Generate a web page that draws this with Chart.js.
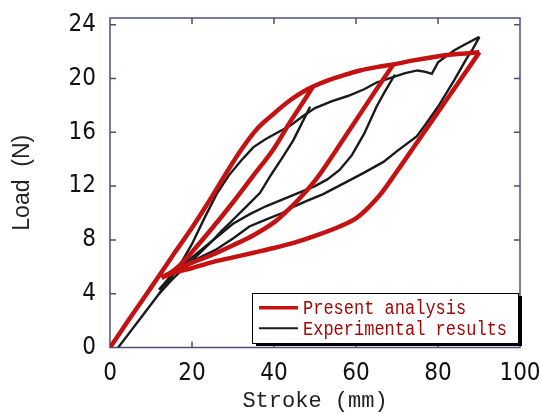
<!DOCTYPE html>
<html>
<head>
<meta charset="utf-8">
<script src="https://cdn.jsdelivr.net/npm/chart.js@4.4.1/dist/chart.umd.min.js"></script>
<style>
  body { margin: 0; background: #fff; }
</style>
</head>
<body>
<canvas id="hysteresis-chart" width="540" height="414"></canvas>
<script>
// --- axis ticks --- //
const strokeTicks = [0, 20, 40, 60, 80, 100];
const loadTicks = [0, 4, 8, 12, 16, 20, 24];

// --- present analysis (red) --- //
const anLoadX = [0, 5, 10, 13, 16, 20, 24, 28, 32, 36, 40, 44, 47, 49.5, 53, 57, 61, 65, 69.1, 74, 79, 84, 90.1];
const anLoadY = [0, 2.25, 4.45, 5.8, 7.15, 8.9, 10.8, 12.8, 14.7, 16.3, 17.4, 18.4, 19.0, 19.4, 19.85, 20.25, 20.6, 20.85, 21.05, 21.35, 21.6, 21.8, 21.95];

const anUnload1X = [49.5, 47, 44, 40, 35, 30, 25, 20, 17, 14.5, 12.6];
const anUnload1Y = [19.4, 18.2, 16.8, 14.8, 12.8, 10.8, 8.9, 7.1, 6.1, 5.5, 5.2];

const anUnload2X = [69.1, 65, 60, 55, 50, 46, 43, 40, 35, 30, 25, 20, 15, 12.6];
const anUnload2Y = [21.05, 19.2, 16.9, 14.6, 12.4, 11.0, 10.1, 9.3, 8.35, 7.6, 6.9, 6.3, 5.6, 5.2];

const anUnload3X = [90.1, 85, 80, 75, 70, 66, 63, 60, 56, 50, 45, 40, 35, 30, 25, 20, 15, 12.6];
const anUnload3Y = [21.95, 19.7, 17.5, 15.3, 13.1, 11.4, 10.4, 9.6, 9.0, 8.3, 7.8, 7.4, 7.05, 6.7, 6.35, 5.9, 5.5, 5.2];

// --- experimental results (black) --- //
const expLoadX = [2, 5, 8, 11, 14, 17, 20, 23, 26, 29, 32, 35, 38, 41, 44, 47, 50, 54, 58, 62, 65, 69, 72, 75, 77, 78.5, 80, 84, 87, 90.1];
const expLoadY = [0, 1.2, 2.4, 3.6, 4.8, 6.1, 7.7, 9.6, 11.4, 12.8, 13.9, 14.9, 15.5, 16.0, 16.5, 17.2, 17.8, 18.3, 18.7, 19.2, 19.7, 20.1, 20.4, 20.6, 20.5, 20.35, 21.2, 22.1, 22.6, 23.1];

const expUnload1X = [48.8, 46.5, 44.7, 42, 39, 36.6, 33, 30, 27, 24.4, 21, 18, 15, 12];
const expUnload1Y = [17.9, 16.5, 15.4, 14.1, 12.7, 11.5, 10.4, 9.5, 8.6, 7.75, 6.75, 5.9, 5.0, 4.0];

const expUnload2X = [69.5, 67, 65, 62, 59, 56, 53, 50, 46, 42, 38, 34, 30, 26, 22, 18, 15, 12];
const expUnload2Y = [20.3, 19.0, 17.9, 15.9, 14.3, 13.2, 12.5, 12.0, 11.5, 11.0, 10.5, 9.9, 9.2, 8.2, 7.2, 6.2, 5.4, 4.3];

const expUnload3X = [90.1, 88.5, 87, 84, 80, 77, 74.8, 70, 66.7, 62, 57, 52, 48, 45, 42, 38, 34, 30, 26, 22, 18, 15, 12];
const expUnload3Y = [23.1, 22.2, 21.5, 19.9, 17.9, 16.6, 15.7, 14.6, 13.8, 13.0, 12.2, 11.4, 10.9, 10.5, 10.0, 9.5, 9.0, 8.1, 7.3, 6.7, 6.1, 5.3, 4.3];

const RED = '#c41212';
const INK = '#1a1a1a';
const AXIS = '#4e4e78';
const tickFont = { family: "'Liberation Sans Narrow', 'DejaVu Sans Condensed', 'Liberation Sans', sans-serif", size: 24 };

// zip x/y arrays into points
const pts = (xs, ys) => xs.map((x, i) => ({ x: x, y: ys[i] }));

const redLine = (xs, ys) => ({
    label: 'Present analysis',
    data: pts(xs, ys),
    borderColor: RED,
    borderWidth: 4.5,
    cubicInterpolationMode: 'monotone',
    pointRadius: 0,
    showLine: true
});

const blackLine = (xs, ys) => ({
    label: 'Experimental results',
    data: pts(xs, ys),
    borderColor: INK,
    borderWidth: 2.4,
    tension: 0,
    pointRadius: 0,
    showLine: true
});

// box + inward ticks on all four sides
const frame = {
    id: 'frame',
    beforeDatasetsDraw(chart) {
        const { ctx, chartArea: a, scales } = chart;
        ctx.save();
        ctx.strokeStyle = AXIS;
        ctx.lineWidth = 1.5;
        ctx.strokeRect(a.left, a.top, a.right - a.left, a.bottom - a.top);
        ctx.beginPath();
        strokeTicks.slice(1, -1).forEach(v => {
            const px = scales.x.getPixelForValue(v);
            ctx.moveTo(px, a.bottom); ctx.lineTo(px, a.bottom - 6);
            ctx.moveTo(px, a.top); ctx.lineTo(px, a.top + 6);
        });
        loadTicks.slice(1).forEach(v => {
            const py = scales.y.getPixelForValue(v);
            ctx.moveTo(a.left, py); ctx.lineTo(a.left + 6, py);
            ctx.moveTo(a.right, py); ctx.lineTo(a.right - 6, py);
        });
        ctx.stroke();
        ctx.restore();
    }
};

// legend box with drop shadow, inside the plot
const legendBox = {
    id: 'legendBox',
    afterDatasetsDraw(chart) {
        const { ctx, chartArea: a } = chart;
        const entries = [];
        chart.data.datasets.forEach(ds => {
            if (!entries.find(e => e.label === ds.label)) entries.push(ds);
        });
        const w = 266, h = 50;
        const left = a.right - 2 - w, top = a.bottom - 4.5 - h;
        ctx.save();
        ctx.fillStyle = '#000';
        ctx.fillRect(left + 4, top + 3, w, h);
        ctx.fillStyle = '#fff';
        ctx.fillRect(left, top, w, h);
        ctx.strokeStyle = '#000';
        ctx.lineWidth = 1;
        ctx.strokeRect(left + 0.5, top + 0.5, w, h);
        entries.forEach((ds, i) => {
            const y = top + 14.7 + i * 20.6;
            ctx.strokeStyle = ds.borderColor;
            ctx.lineWidth = ds.borderColor === RED ? 3.5 : 2;
            ctx.beginPath();
            ctx.moveTo(left + 7, y);
            ctx.lineTo(left + 46, y);
            ctx.stroke();
            ctx.save();
            ctx.translate(left + 51, y);
            ctx.scale(0.85, 1);
            ctx.fillStyle = '#a00808';
            ctx.font = "20px 'Liberation Mono', 'DejaVu Sans Mono', monospace";
            ctx.textBaseline = 'middle';
            ctx.fillText(ds.label, 0, 1);
            ctx.restore();
        });
        ctx.restore();
    }
};

const hysteresisCanvas = document.getElementById('hysteresis-chart');

let hysteresisChart = new Chart(hysteresisCanvas, {
    type: 'scatter',
    data: {
        datasets: [
            redLine(anLoadX, anLoadY),
            redLine(anUnload1X, anUnload1Y),
            redLine(anUnload2X, anUnload2Y),
            redLine(anUnload3X, anUnload3Y),
            blackLine(expLoadX, expLoadY),
            blackLine(expUnload1X, expUnload1Y),
            blackLine(expUnload2X, expUnload2Y),
            blackLine(expUnload3X, expUnload3Y)
        ]
    },
    options: {
        responsive: false,
        animation: false,
        layout: { padding: { top: 18, right: 20, left: 0, bottom: 0 } },
        plugins: {
            legend: { display: false },
            tooltip: { enabled: false }
        },
        scales: {
            x: {
                type: 'linear',
                min: 0,
                max: 100,
                afterBuildTicks: s => { s.ticks = strokeTicks.map(v => ({ value: v })); },
                // fixed height, no extra room for the end labels
                afterFit: s => { s.height = 66.5; s.paddingLeft = 0; s.paddingRight = 0; },
                grid: { display: false, drawTicks: false },
                border: { display: false },
                ticks: { padding: 12, color: '#111', font: tickFont, maxRotation: 0 },
                title: {
                    display: true,
                    text: 'Stroke (mm)',
                    color: '#222',
                    font: { family: "'Liberation Mono', 'DejaVu Sans Mono', monospace", size: 22 },
                    padding: { top: 0, bottom: 0 }
                }
            },
            y: {
                type: 'linear',
                min: 0,
                max: 24.5,
                afterBuildTicks: s => { s.ticks = loadTicks.map(v => ({ value: v })); },
                afterFit: s => { s.width = 110; s.paddingTop = 0; s.paddingBottom = 0; },
                grid: { display: false, drawTicks: false },
                border: { display: false },
                ticks: { padding: 14, color: '#111', font: tickFont },
                title: {
                    display: true,
                    text: 'Load  (N)',
                    color: '#222',
                    font: { family: "'Liberation Sans', Arial, sans-serif", size: 23 },
                    padding: { top: 9, bottom: 0 }
                }
            }
        }
    },
    plugins: [frame, legendBox]
});
</script>
</body>
</html>
